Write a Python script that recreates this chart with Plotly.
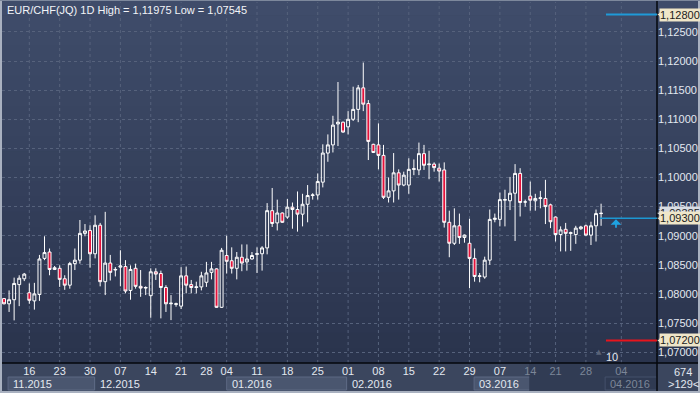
import plotly.graph_objects as go

# ---------------- data (EUR/CHF daily) ----------------
opens = [1.0792, 1.0783, 1.0790, 1.0816, 1.0826, 1.0802, 1.0788, 1.0799, 1.0861, 1.0872,
         1.0842, 1.0844, 1.0826, 1.0815, 1.0852, 1.0858, 1.0904, 1.0909, 1.0869, 1.0918,
         1.0821, 1.0853, 1.0841, 1.0846, 1.0847, 1.0806, 1.0844, 1.0813, 1.0810, 1.0797,
         1.0838, 1.0835, 1.0811, 1.0783, 1.0782, 1.0779, 1.0831, 1.0816, 1.0811, 1.0812,
         1.0820, 1.0837, 1.0843, 1.0777, 1.0866, 1.0857, 1.0844, 1.0863, 1.0855, 1.0860,
         1.0868, 1.0869, 1.0879, 1.0943, 1.0922, 1.0939, 1.0932, 1.0949, 1.0945, 1.0937,
         1.0954, 1.0969, 1.0970, 1.0992, 1.1042, 1.1056, 1.1092, 1.1095, 1.1087, 1.1100,
         1.1117, 1.1154, 1.1127, 1.1057, 1.1056, 1.1038, 1.0966, 1.0977, 1.1008, 1.0987,
         1.0987, 1.1014, 1.1013, 1.1041, 1.1022, 1.1023, 1.1016, 1.1013, 1.0923, 1.0887,
         1.0917, 1.0897, 1.0887, 1.0861, 1.0830, 1.0829, 1.0858, 1.0928, 1.0928, 1.0961,
         1.0960, 1.0973, 1.1007, 1.0958, 1.0968, 1.0960, 1.0964, 1.0964, 1.0953, 1.0932,
         1.0902, 1.0911, 1.0904, 1.0902, 1.0912, 1.0917, 1.0901, 1.0917, 1.0938]
highs = [1.0793, 1.0806, 1.0828, 1.0832, 1.0836, 1.0818, 1.0819, 1.0867, 1.0899, 1.0878,
         1.0848, 1.0849, 1.0832, 1.0855, 1.0878, 1.0927, 1.0920, 1.0918, 1.0935, 1.0922,
         1.0941, 1.0867, 1.0846, 1.0875, 1.0858, 1.0849, 1.0852, 1.0841, 1.0813, 1.0844,
         1.0844, 1.0840, 1.0815, 1.0798, 1.0785, 1.0846, 1.0847, 1.0824, 1.0821, 1.0838,
         1.0855, 1.0855, 1.0844, 1.0879, 1.0900, 1.0880, 1.0872, 1.0885, 1.0885, 1.0872,
         1.0880, 1.0882, 1.0956, 1.0982, 1.0962, 1.0940, 1.0963, 1.0957, 1.0976, 1.0972,
         1.0987, 1.0973, 1.1007, 1.1057, 1.1074, 1.1106, 1.1164, 1.1096, 1.1114, 1.1156,
         1.1159, 1.11975, 1.1133, 1.1058, 1.1093, 1.1056, 1.1000, 1.1042, 1.1014, 1.1010,
         1.1033, 1.1031, 1.1060, 1.1056, 1.1046, 1.1026, 1.1024, 1.1026, 1.0943, 1.0947,
         1.0938, 1.0902, 1.0929, 1.0878, 1.0836, 1.0864, 1.0945, 1.0938, 1.0974, 1.0979,
         1.1001, 1.1023, 1.1016, 1.0962, 1.0993, 1.0972, 1.0977, 1.0996, 1.0955, 1.0933,
         1.0916, 1.0922, 1.0907, 1.0917, 1.0917, 1.0919, 1.0924, 1.0945, 1.0955]
lows = [1.0782, 1.0769, 1.07545, 1.0779, 1.0822, 1.0783, 1.0773, 1.0788, 1.0858, 1.0832,
        1.0841, 1.0812, 1.0807, 1.0809, 1.0841, 1.0852, 1.0899, 1.0845, 1.0861, 1.0813,
        1.0798, 1.0823, 1.0830, 1.0813, 1.0801, 1.0790, 1.0809, 1.0795, 1.0798, 1.0759,
        1.0824, 1.0758, 1.0769, 1.0755, 1.0778, 1.0774, 1.0801, 1.0801, 1.0801, 1.0806,
        1.0812, 1.0825, 1.0776, 1.0776, 1.0835, 1.0835, 1.0825, 1.0839, 1.0840, 1.0859,
        1.0836, 1.0840, 1.0868, 1.0915, 1.0909, 1.0922, 1.0929, 1.0912, 1.0907, 1.0916,
        1.0923, 1.0962, 1.0962, 1.0983, 1.1027, 1.1043, 1.1054, 1.1077, 1.1074, 1.1097,
        1.1095, 1.1114, 1.1030, 1.1042, 1.1014, 1.0963, 1.0957, 1.0957, 1.0962, 1.0985,
        1.0972, 1.1004, 1.1004, 1.1013, 1.0997, 1.1010, 1.0993, 1.0914, 1.0863, 1.0884,
        1.0886, 1.0888, 1.0810, 1.0821, 1.0820, 1.0826, 1.0850, 1.0923, 1.0916, 1.0916,
        1.0944, 1.0891, 1.0933, 1.0950, 1.0943, 1.0943, 1.0947, 1.0920, 1.0913, 1.0890,
        1.0873, 1.0873, 1.0874, 1.0886, 1.0910, 1.0900, 1.0884, 1.0890, 1.0917]
closes = [1.0783, 1.0790, 1.0818, 1.0827, 1.0834, 1.0789, 1.0800, 1.0860, 1.0871, 1.0842,
          1.0845, 1.0825, 1.0815, 1.0852, 1.0858, 1.0904, 1.0908, 1.0869, 1.0918, 1.0821,
          1.0853, 1.0837, 1.0842, 1.0848, 1.0805, 1.0842, 1.0813, 1.0810, 1.0811, 1.0838,
          1.0834, 1.0811, 1.0783, 1.0784, 1.0783, 1.0831, 1.0815, 1.0811, 1.0812, 1.0831,
          1.0836, 1.0843, 1.0777, 1.0875, 1.0856, 1.0844, 1.0863, 1.0853, 1.0860, 1.0866,
          1.0869, 1.0879, 1.0943, 1.0921, 1.0939, 1.0923, 1.0949, 1.0945, 1.0937, 1.0954,
          1.0969, 1.0970, 1.0993, 1.1042, 1.1056, 1.1090, 1.1095, 1.1078, 1.1100, 1.1117,
          1.1154, 1.1126, 1.1062, 1.1043, 1.1038, 1.0966, 1.0977, 1.1008, 1.0987, 1.1004,
          1.1014, 1.1015, 1.1041, 1.1021, 1.1023, 1.1017, 1.1011, 1.0923, 1.0887, 1.0917,
          1.0897, 1.0901, 1.0861, 1.0830, 1.0831, 1.0858, 1.0928, 1.0930, 1.0962, 1.0962,
          1.0973, 1.1007, 1.0957, 1.0958, 1.0961, 1.0964, 1.0965, 1.0950, 1.0924, 1.0902,
          1.0910, 1.0904, 1.0905, 1.0913, 1.0915, 1.0901, 1.0917, 1.0938, 1.09385]

day_tick_pos = [5, 11, 17, 23, 29, 35, 40, 44, 50, 56, 62, 68, 74, 80, 86, 92, 98, 104, 109, 115, 122]
day_tick_text = ["16", "23", "30", "07", "14", "21", "28", "04", "11", "18", "25",
                 "01", "08", "15", "22", "29", "07", "14", "21", "28", "04"]
grid_x_pos = [5, 11, 17, 23, 29, 35, 44, 50, 56, 62, 68, 74, 80, 86, 92, 98, 104, 109, 115, 122]
month_labels = ["11.2015", "12.2015", "01.2016", "02.2016", "03.2016", "04.2016"]
month_starts = [0.8, 17.9, 44.0, 67.7, 92.9, 118.8]

y_ticks = [1.070, 1.075, 1.080, 1.085, 1.090, 1.095, 1.100, 1.105, 1.110, 1.115, 1.120, 1.125]
level_upper = 1.128
level_lower = 1.072
level_alert = 1.093
last_price = 1.09385
title_text = "EUR/CHF(JQ) 1D High = 1,11975 Low = 1,07545"
bar_count = "674"
bar_offset = ">129<"
alert_count = "10"

# ---------------- geometry / style ----------------
W, H = 700, 393
ML, MR, MT, MB = 2, 43, 2, 30
PW, PH = W - ML - MR, H - MT - MB
X_RANGE = [-0.4, 129.05]
Y_RANGE = [1.06813, 1.13015]
FONT = "Liberation Sans Narrow, Liberation Sans, Arial, sans-serif"
TXT = "#e3e8f0"
DIM = "#7c8698"


def px(x):  # pixel -> paper x
    return (x - ML) / PW


def py(y):  # pixel -> paper y
    return (H - MB - y) / PH


def fmt(v):
    return f"{v:.5f}".replace(".", ",")


x = list(range(len(opens)))

fig = go.Figure()
fig.add_trace(go.Candlestick(
    x=x, open=opens, high=highs, low=lows, close=closes,
    increasing=dict(line=dict(color="#ffffff", width=1), fillcolor="rgba(0,0,0,0)"),
    decreasing=dict(line=dict(color="#ffffff", width=1), fillcolor="#e4123b"),
    whiskerwidth=0, hoverinfo="skip", showlegend=False,
))

shapes = []
annotations = []

# background gradient (plot + right panel)
top_c = (63, 76, 106)
bot_c = (42, 52, 77)
nb = 24
for i in range(nb):
    t = i / (nb - 1)
    c = tuple(round(top_c[k] + (bot_c[k] - top_c[k]) * t) for k in range(3))
    y0 = 363 * i / nb
    y1 = 363 * (i + 1) / nb
    shapes.append(dict(type="rect", xref="paper", yref="paper", layer="below",
                       x0=px(0), x1=px(700), y0=py(y1 + 0.5), y1=py(y0),
                       fillcolor="rgb(%d,%d,%d)" % c, line=dict(width=0)))

# x-axis band
shapes.append(dict(type="rect", xref="paper", yref="paper", layer="below",
                   x0=px(0), x1=px(700), y0=py(393), y1=py(363),
                   fillcolor="#3b465e", line=dict(width=0)))
# month boxes
ends = month_starts[1:] + [X_RANGE[1]]
for i, (lab, s, e) in enumerate(zip(month_labels, month_starts, ends)):
    if i % 2 == 0:
        shapes.append(dict(type="rect", xref="x", yref="paper", layer="below",
                           x0=s, x1=e, y0=py(390), y1=py(377),
                           fillcolor="#4a566f", line=dict(color="#5c6883", width=1)))
    else:
        shapes.append(dict(type="line", xref="x", yref="paper", layer="below",
                           x0=s, x1=s, y0=py(390), y1=py(377),
                           line=dict(color="#5c6883", width=1)))
# dimmed (scroll) region in the axis band
dim_start = 103.8
shapes.append(dict(type="rect", xref="x", yref="paper", layer="below",
                   x0=dim_start, x1=X_RANGE[1], y0=py(391), y1=py(363.5),
                   fillcolor="#313c54", line=dict(width=0)))
shapes.append(dict(type="rect", xref="x", yref="paper", layer="below",
                   x0=month_starts[-1], x1=X_RANGE[1], y0=py(390), y1=py(377),
                   fillcolor="#2f3a52", line=dict(color="#45516b", width=1)))
# bottom-right box
shapes.append(dict(type="rect", xref="paper", yref="paper", layer="below",
                   x0=px(657), x1=px(700), y0=py(393), y1=py(363),
                   fillcolor="#3b465e", line=dict(width=0)))

# vertical dashed grid
for g in grid_x_pos:
    shapes.append(dict(type="line", xref="x", yref="paper", layer="below",
                       x0=g, x1=g, y0=0, y1=1,
                       line=dict(color="#56627c", width=1, dash="3px,3px")))

# separators and frame
shapes.append(dict(type="line", xref="paper", yref="paper", layer="above",
                   x0=px(657), x1=px(657), y0=py(393), y1=py(0),
                   line=dict(color="#05070c", width=1.5)))
shapes.append(dict(type="line", xref="paper", yref="paper", layer="above",
                   x0=px(0), x1=px(700), y0=py(363), y1=py(363),
                   line=dict(color="#05070c", width=1.5)))
frame_c = "#a9b1c0"
shapes.append(dict(type="rect", xref="paper", yref="paper", layer="above",
                   x0=px(0), x1=px(2), y0=py(393), y1=py(0), fillcolor=frame_c, line=dict(width=0)))
shapes.append(dict(type="rect", xref="paper", yref="paper", layer="above",
                   x0=px(0), x1=px(700), y0=py(393), y1=py(391), fillcolor=frame_c, line=dict(width=0)))
shapes.append(dict(type="rect", xref="paper", yref="paper", layer="above",
                   x0=px(698), x1=px(700), y0=py(393), y1=py(0), fillcolor=frame_c, line=dict(width=0)))
shapes.append(dict(type="rect", xref="paper", yref="paper", layer="above",
                   x0=px(0), x1=px(700), y0=py(1), y1=py(0), fillcolor="#7d889c", line=dict(width=0)))

# level lines
shapes.append(dict(type="line", xref="paper", yref="y", layer="above",
                   x0=px(606), x1=px(657), y0=level_upper, y1=level_upper,
                   line=dict(color="#1f9ad8", width=2)))
shapes.append(dict(type="line", xref="paper", yref="y", layer="above",
                   x0=px(606), x1=px(657), y0=level_lower, y1=level_lower,
                   line=dict(color="#e8141c", width=2)))
shapes.append(dict(type="line", xref="paper", yref="y", layer="above",
                   x0=px(600), x1=px(657), y0=level_alert, y1=level_alert,
                   line=dict(color="#1c97d2", width=1.5)))

# price tags on the right axis
hy = 5.5 * (Y_RANGE[1] - Y_RANGE[0]) / PH


def tag(val, fill, border):
    xt, x1, x2 = px(657.5), px(662), px(697)
    path = (f"M {xt},{val} L {x1},{val + hy} L {x2},{val + hy} "
            f"L {x2},{val - hy} L {x1},{val - hy} Z")
    shapes.append(dict(type="path", xref="paper", yref="y", layer="above", path=path,
                       fillcolor=fill, line=dict(color=border, width=1)))
    annotations.append(dict(xref="paper", yref="y", x=px(679.5), y=val, text=fmt(val),
                            showarrow=False, xanchor="center", yanchor="middle",
                            bgcolor=fill, borderpad=0,
                            font=dict(family=FONT, size=11, color="#1b1b1b")))


tag(last_price, "#d9dde4", "#4a4f58")
tag(level_alert, "#efe6c9", "#4a4f58")
tag(level_upper, "#efe6c9", "#4a4f58")
tag(level_lower, "#efe6c9", "#4a4f58")

# alert arrow
annotations.append(dict(xref="paper", yref="y", x=px(616), y=level_alert, ax=0, ay=10,
                        yshift=-1, text="", showarrow=True, arrowhead=1, arrowsize=1.0,
                        arrowwidth=1.8, arrowcolor="#1fa2e0"))

# title
annotations.append(dict(xref="paper", yref="paper", x=px(5), y=py(10), text=title_text,
                        showarrow=False, xanchor="left", yanchor="middle",
                        font=dict(family=FONT, size=11, color="#f2f4f8")))
# month labels
for i, (lab, s) in enumerate(zip(month_labels, month_starts)):
    annotations.append(dict(xref="x", yref="paper", x=s, y=py(383.5), text=lab,
                            showarrow=False, xanchor="left", yanchor="middle", xshift=3,
                            font=dict(family=FONT, size=11,
                                      color=DIM if s > dim_start else TXT)))
# alert count
annotations.append(dict(xref="paper", yref="paper", x=px(599), y=py(352), text="▲",
                        showarrow=False, xanchor="center", yanchor="middle",
                        font=dict(family="DejaVu Sans", size=7, color="#596379")))
annotations.append(dict(xref="paper", yref="paper", x=px(612), y=py(357), text=alert_count,
                        showarrow=False, xanchor="center", yanchor="middle",
                        font=dict(family=FONT, size=11, color=TXT)))
# bottom-right counters
annotations.append(dict(xref="paper", yref="paper", x=px(683), y=py(371.5), text=bar_count,
                        showarrow=False, xanchor="center", yanchor="middle",
                        font=dict(family=FONT, size=11, color=TXT)))
annotations.append(dict(xref="paper", yref="paper", x=px(683), y=py(384), text=bar_offset,
                        showarrow=False, xanchor="center", yanchor="middle",
                        font=dict(family=FONT, size=11, color=TXT)))

tick_text_x = [t if p < dim_start else f"<span style='color:{DIM}'>{t}</span>"
               for p, t in zip(day_tick_pos, day_tick_text)]

fig.update_layout(
    width=W, height=H,
    margin=dict(l=ML, r=MR, t=MT, b=MB, pad=0, autoexpand=False),
    paper_bgcolor="#3b465e", plot_bgcolor="rgba(0,0,0,0)",
    showlegend=False, hovermode=False, boxgap=0.18,
    shapes=shapes, annotations=annotations,
    font=dict(family=FONT, size=11, color=TXT),
    xaxis=dict(range=X_RANGE, showgrid=False, zeroline=False, showline=False,
               tickmode="array", tickvals=day_tick_pos, ticktext=tick_text_x,
               ticks="", tickfont=dict(family=FONT, size=11, color=TXT),
               rangeslider=dict(visible=False), fixedrange=True, automargin=False),
    yaxis=dict(range=Y_RANGE, side="right", showgrid=True, gridcolor="#56627c",
               griddash="3px,3px", gridwidth=1, zeroline=False, showline=False,
               tickmode="array", tickvals=y_ticks, ticktext=[fmt(v) for v in y_ticks],
               ticks="", tickfont=dict(family=FONT, size=11, color=TXT), fixedrange=True,
               automargin=False),
)

fig.write_html("out.html", config={"displayModeBar": False},
               post_script="document.body.style.margin='0';document.body.style.overflow='hidden';")
